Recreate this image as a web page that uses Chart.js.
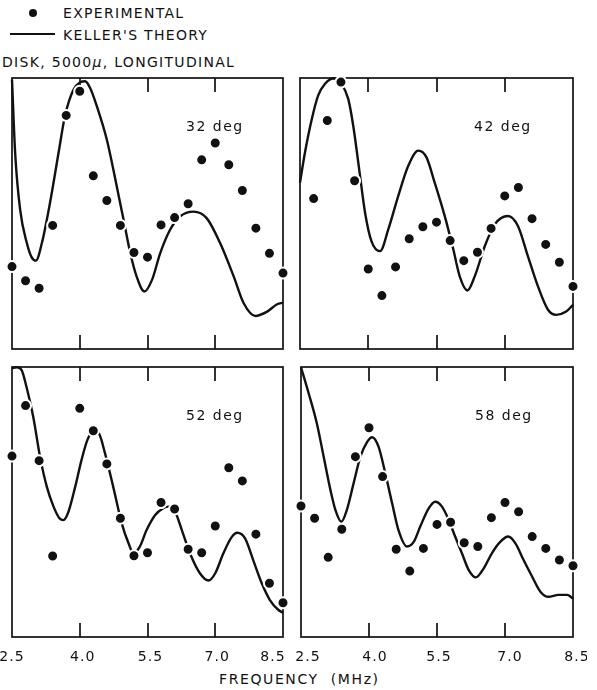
<!DOCTYPE html>
<html>
<head>
<meta charset="utf-8">
<script src="https://cdn.jsdelivr.net/npm/chart.js@4.4.1/dist/chart.umd.min.js"></script>
<style>
    body { margin: 0; width: 597px; height: 690px; background: #fff; position: relative; overflow: hidden; font-family: "DejaVu Sans", sans-serif; color: #111; }
    canvas { position: absolute; }
    .txt { position: absolute; font-size: 14px; letter-spacing: 1.3px; white-space: nowrap; line-height: 1; }
    .dot { position: absolute; left: 29px; top: 9px; width: 8px; height: 8px; border-radius: 50%; background: #111; }
    .line { position: absolute; left: 10px; top: 33px; width: 45px; height: 2px; background: #111; }
</style>
</head>
<body>
<div class="dot"></div>
<div class="txt" style="left:63px; top:6px">EXPERIMENTAL</div>
<div class="line"></div>
<div class="txt" style="left:63px; top:28px">KELLER'S THEORY</div>
<div class="txt" style="left:2px; top:55px">DISK, 5000<i>μ</i>, LONGITUDINAL</div>
<div class="txt" style="left:219px; top:672px; letter-spacing:1.6px">FREQUENCY&nbsp; (MHz)</div>

<canvas id="deg32"></canvas>
<canvas id="deg42"></canvas>
<canvas id="deg52"></canvas>
<canvas id="deg58"></canvas>

<script>
// measured frequencies (MHz), 0.3 MHz steps
const expFreq = [2.5, 2.8, 3.1, 3.4, 3.7, 4.0, 4.3, 4.6, 4.9, 5.2, 5.5, 5.8, 6.1, 6.4, 6.7, 7.0, 7.3, 7.6, 7.9, 8.2, 8.5]
const exp32 = [30.4, 25.2, 22.4, 45.6, 86.2, 95.1, 63.9, 54.8, 45.6, 35.6, 33.9, 45.8, 48.5, 53.6, 69.8, 76.0, 68.0, 58.5, 44.6, 35.3, 28.0]
const exp42 = [null, 55.5, 84.3, 98.5, 62.1, 29.5, 19.7, 30.3, 40.7, 45.1, 46.8, 40.0, 32.6, 35.7, 44.5, 56.5, 59.6, 48.1, 38.6, 32.0, 23.1]
const exp52 = [67.0, 85.7, 65.3, 30.0, null, 84.7, 76.4, 64.1, 44.0, 30.1, 31.2, 49.8, 47.4, 32.5, 31.2, 41.1, 62.7, 57.8, 38.1, 19.9, 12.7]
const exp58 = [48.5, 44.0, 29.5, 39.9, 66.8, 77.5, 59.4, 32.5, 24.4, 32.8, 41.7, 42.5, 34.9, 33.5, 44.2, 49.8, 46.4, 37.2, 32.8, 28.5, 26.4]

// Keller's theory
const theoryFreq32 = [2.50, 2.57, 2.68, 2.83, 2.93, 3.03, 3.16, 3.34, 3.53, 3.67, 3.86, 4.01, 4.12, 4.23, 4.38, 4.60, 4.82, 4.97, 5.12, 5.26, 5.43, 5.60, 5.78, 6.00, 6.22, 6.52, 6.81, 7.11, 7.41, 7.63, 7.89, 8.15, 8.37, 8.50]
const theory32 = [99.4, 72.3, 51.4, 39.0, 34.0, 32.6, 39.0, 53.8, 72.3, 85.8, 95.7, 98.4, 98.8, 96.3, 89.5, 77.2, 60.0, 47.7, 35.3, 26.7, 21.2, 25.5, 35.3, 44.0, 48.9, 50.7, 48.3, 39.0, 26.7, 16.9, 12.2, 13.8, 16.5, 17.1]

const theoryFreq42 = [2.50, 2.61, 2.76, 2.90, 3.05, 3.23, 3.40, 3.56, 3.67, 3.80, 3.93, 4.07, 4.26, 4.44, 4.66, 4.88, 5.10, 5.28, 5.46, 5.68, 5.87, 6.01, 6.18, 6.34, 6.56, 6.78, 7.07, 7.29, 7.51, 7.73, 7.95, 8.13, 8.35, 8.50]
const theory42 = [61.4, 72.6, 84.9, 93.6, 97.9, 99.8, 98.0, 92.3, 82.4, 66.4, 50.3, 39.8, 36.1, 44.1, 56.5, 67.6, 73.2, 70.7, 61.4, 49.1, 36.7, 26.8, 21.6, 26.8, 37.9, 46.0, 49.1, 45.4, 34.2, 23.1, 14.5, 12.6, 13.8, 16.3]

const theoryFreq52 = [2.50, 2.60, 2.71, 2.82, 2.97, 3.12, 3.27, 3.42, 3.55, 3.64, 3.75, 3.90, 4.04, 4.17, 4.30, 4.43, 4.56, 4.74, 4.93, 5.08, 5.19, 5.33, 5.48, 5.67, 5.85, 5.96, 6.11, 6.26, 6.44, 6.66, 6.85, 7.00, 7.18, 7.36, 7.49, 7.66, 7.84, 8.03, 8.21, 8.40, 8.50]
const theory52 = [99.5, 99.9, 98.9, 92.7, 81.6, 66.8, 55.7, 48.3, 44.0, 43.3, 46.4, 55.7, 65.6, 73.0, 76.4, 75.2, 68.0, 55.7, 42.1, 34.7, 31.0, 33.5, 39.6, 45.2, 47.7, 48.3, 46.4, 39.6, 31.0, 23.6, 20.9, 23.6, 31.0, 36.9, 38.6, 36.5, 28.5, 19.9, 13.7, 10.0, 9.0]

const theoryFreq58 = [2.50, 2.67, 2.85, 3.00, 3.15, 3.26, 3.39, 3.51, 3.66, 3.81, 3.96, 4.07, 4.21, 4.36, 4.51, 4.65, 4.84, 4.99, 5.13, 5.32, 5.46, 5.61, 5.76, 5.90, 6.05, 6.20, 6.36, 6.53, 6.71, 6.90, 7.07, 7.23, 7.41, 7.60, 7.78, 7.96, 8.18, 8.37, 8.50]
const theory58 = [99.9, 90.2, 79.1, 66.8, 54.4, 47.0, 42.7, 47.0, 56.9, 66.8, 72.3, 74.0, 70.5, 60.6, 49.5, 39.6, 33.5, 35.3, 40.9, 47.7, 50.1, 48.3, 43.3, 37.2, 31.0, 24.8, 22.1, 25.4, 31.0, 35.3, 37.2, 34.7, 28.5, 22.3, 16.8, 14.9, 15.6, 15.6, 14.3]

const tickValues = [2.5, 4.0, 5.5, 7.0, 8.5]
const tickLabels = ["2.5", "4.0", "5.5", "7.0", "8.5"]

const ink = '#111'

function toPoints(xs, ys) {
    return xs.map((x, i) => ({ x: x, y: ys[i] })).filter(p => p.y != null)
}

const framePlugin = {
    id: 'frame',
    beforeDatasetsDraw(chart, args, opts) {
        const { ctx, chartArea: a } = chart
        const x = chart.scales.x
        ctx.save()
        ctx.strokeStyle = ink
        ctx.fillStyle = ink
        ctx.lineWidth = 1.7
        ctx.strokeRect(a.left, a.top, a.right - a.left, a.bottom - a.top)
        tickValues.forEach((v, i) => {
            if (i == 0 || i == tickValues.length - 1) return
            let px = Math.round(x.getPixelForValue(v))
            ctx.beginPath()
            ctx.moveTo(px, a.top)
            ctx.lineTo(px, a.top + 14)
            ctx.moveTo(px, a.bottom)
            ctx.lineTo(px, a.bottom - 14)
            ctx.stroke()
        })
        ctx.font = '14px "DejaVu Sans"'
        ctx.letterSpacing = '1.5px'
        ctx.textBaseline = 'middle'
        ctx.textAlign = 'left'
        ctx.fillText(opts.title, a.left + 174, a.top + 49)
        if (opts.shift) {
            ctx.textAlign = 'center'
            ctx.letterSpacing = '1px'
            tickValues.forEach((v, i) => {
                ctx.fillText(tickLabels[i], x.getPixelForValue(v) + opts.shift[i], a.bottom + 20)
            })
        }
        ctx.restore()
    }
}

function makePanel(id, box, title, freq, exp, tFreq, theory, shift) {
    let canvas = document.getElementById(id)
    let padBottom = shift ? 36 : 10
    canvas.width = box.r - box.l + 28
    canvas.height = box.b - box.t + 10 + padBottom
    canvas.style.left = (box.l - 14) + 'px'
    canvas.style.top = (box.t - 10) + 'px'

    new Chart(canvas.getContext('2d'), {
        type: 'scatter',
        data: {
            datasets: [{
                data: toPoints(freq, exp),
                backgroundColor: ink,
                borderColor: '#fff',
                borderWidth: 2,
                pointRadius: 5.5,
                clip: false
            }, {
                type: 'line',
                data: toPoints(tFreq, theory),
                borderColor: ink,
                borderWidth: 2.4,
                pointRadius: 0,
                fill: false,
                cubicInterpolationMode: 'monotone',
                clip: false
            }]
        },
        options: {
            responsive: false,
            animation: false,
            events: [],
            devicePixelRatio: 1,
            layout: { padding: { left: 14, right: 14, top: 10, bottom: padBottom } },
            scales: {
                x: { type: 'linear', min: 2.5, max: 8.5, display: false },
                y: { min: 0, max: 100, display: false }
            },
            plugins: {
                legend: { display: false },
                tooltip: { enabled: false },
                frame: { title: title, shift: shift }
            }
        },
        plugins: [framePlugin]
    })
}

makePanel('deg32', { l: 12, t: 78, r: 283, b: 349 }, '32 deg', expFreq, exp32, theoryFreq32, theory32, null)
makePanel('deg42', { l: 300, t: 78, r: 573, b: 349 }, '42 deg', expFreq, exp42, theoryFreq42, theory42, null)
makePanel('deg52', { l: 12, t: 367, r: 283, b: 637 }, '52 deg', expFreq, exp52, theoryFreq52, theory52, [0, 3, 3, 2, -10])
makePanel('deg58', { l: 301, t: 367, r: 573, b: 637 }, '58 deg', expFreq, exp58, theoryFreq58, theory58, [7, 6, 2, 5, 4])
</script>
</body>
</html>
